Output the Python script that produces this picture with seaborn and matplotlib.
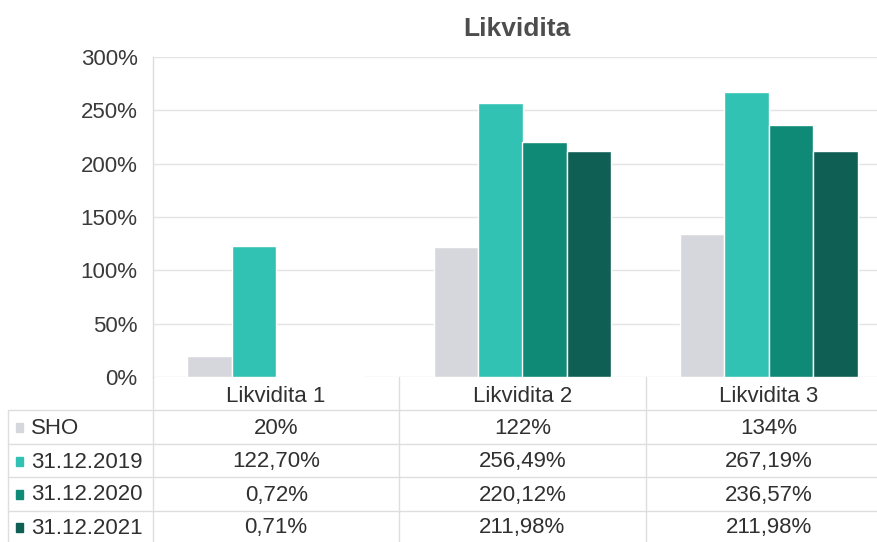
import seaborn as sns
import matplotlib.pyplot as plt
import matplotlib.transforms as mtransforms
from matplotlib.patches import Rectangle
from matplotlib.ticker import FuncFormatter
import pandas as pd

kategorie = ['Likvidita 1', 'Likvidita 2', 'Likvidita 3']
obdobi = ['SHO', '31.12.2019', '31.12.2020', '31.12.2021']
sho = [20, 122, 134]
r2019 = [122.70, 256.49, 267.19]
r2020 = [0.72, 220.12, 236.57]
r2021 = [0.71, 211.98, 211.98]
barvy = ['#d6d7dd', '#31c2b3', '#0e8a77', '#0f5f54']

rows = []
for serie, vals in zip(obdobi, [sho, r2019, r2020, r2021]):
    for kat, v in zip(kategorie, vals):
        rows.append({'kategorie': kat, 'obdobi': serie, 'hodnota': v})
df = pd.DataFrame(rows)

sns.set_style('white')
plt.rcParams['font.family'] = ['Liberation Sans', 'DejaVu Sans']

W, H = 877, 542
fig = plt.figure(figsize=(W / 100, H / 100), dpi=100)
ax = fig.add_axes([153 / W, (H - 377) / H, 739 / W, 320 / H])

sns.barplot(data=df, x='kategorie', y='hodnota', hue='obdobi', hue_order=obdobi,
            palette=barvy, width=0.72, saturation=1, legend=False, ax=ax)

ax.set_xlim(-0.5, 2.5)
ax.set_ylim(0, 300)
ax.set_yticks(range(0, 301, 50))
ax.yaxis.set_major_formatter(FuncFormatter(lambda v, p: f'{v:.0f}%'))
ax.tick_params(axis='y', labelsize=16, labelcolor='#3a3a3a', length=0, pad=11)
ax.set_xticks([])
ax.set_xlabel('')
ax.set_ylabel('')
ax.yaxis.grid(True, color='#e4e4e4', linewidth=1)
ax.set_axisbelow(True)
for s in ['top', 'right', 'bottom']:
    ax.spines[s].set_visible(False)
ax.spines['left'].set_color('#dcdcdc')
ax.spines['left'].set_linewidth(1)

fig.text(517 / W, 1 - 29 / H, 'Likvidita', ha='center', va='center',
         fontsize=19, fontweight='bold', color='#4d4d4d')

# data table under the chart
trans = mtransforms.blended_transform_factory(ax.transData, fig.transFigure)
fy = lambda py: 1 - py / H
row_y = [428, 462, 495, 528]
line_c = '#dedede'
txt_c = '#303030'

for xb in [-0.5, 0.5, 1.5]:
    ax.plot([xb, xb], [fy(377), 0], transform=trans, color=line_c, lw=1, clip_on=False)
for ly in [410, 444, 477, 511]:
    fig.add_artist(plt.Line2D([8 / W, 1], [fy(ly), fy(ly)], color=line_c, lw=1))
fig.add_artist(plt.Line2D([8 / W, 8 / W], [fy(410), 0], color=line_c, lw=1))

for i, kat in enumerate(kategorie):
    ax.text(i, fy(396), kat, transform=trans, ha='center', va='center',
            fontsize=16, color=txt_c, clip_on=False)

for serie, vals, barva, ry in zip(obdobi, [sho, r2019, r2020, r2021], barvy, row_y):
    fig.add_artist(Rectangle((16 / W, fy(ry + 4)), 7 / W, 9 / H, color=barva))
    fig.text(31 / W, fy(ry), serie, ha='left', va='center', fontsize=16, color=txt_c)
    for i, v in enumerate(vals):
        txt = f'{v:.0f}%' if serie == 'SHO' else f'{v:.2f}%'.replace('.', ',')
        ax.text(i, fy(ry), txt, transform=trans, ha='center', va='center',
                fontsize=16, color=txt_c, clip_on=False)

fig.savefig('out.png', dpi=100)
